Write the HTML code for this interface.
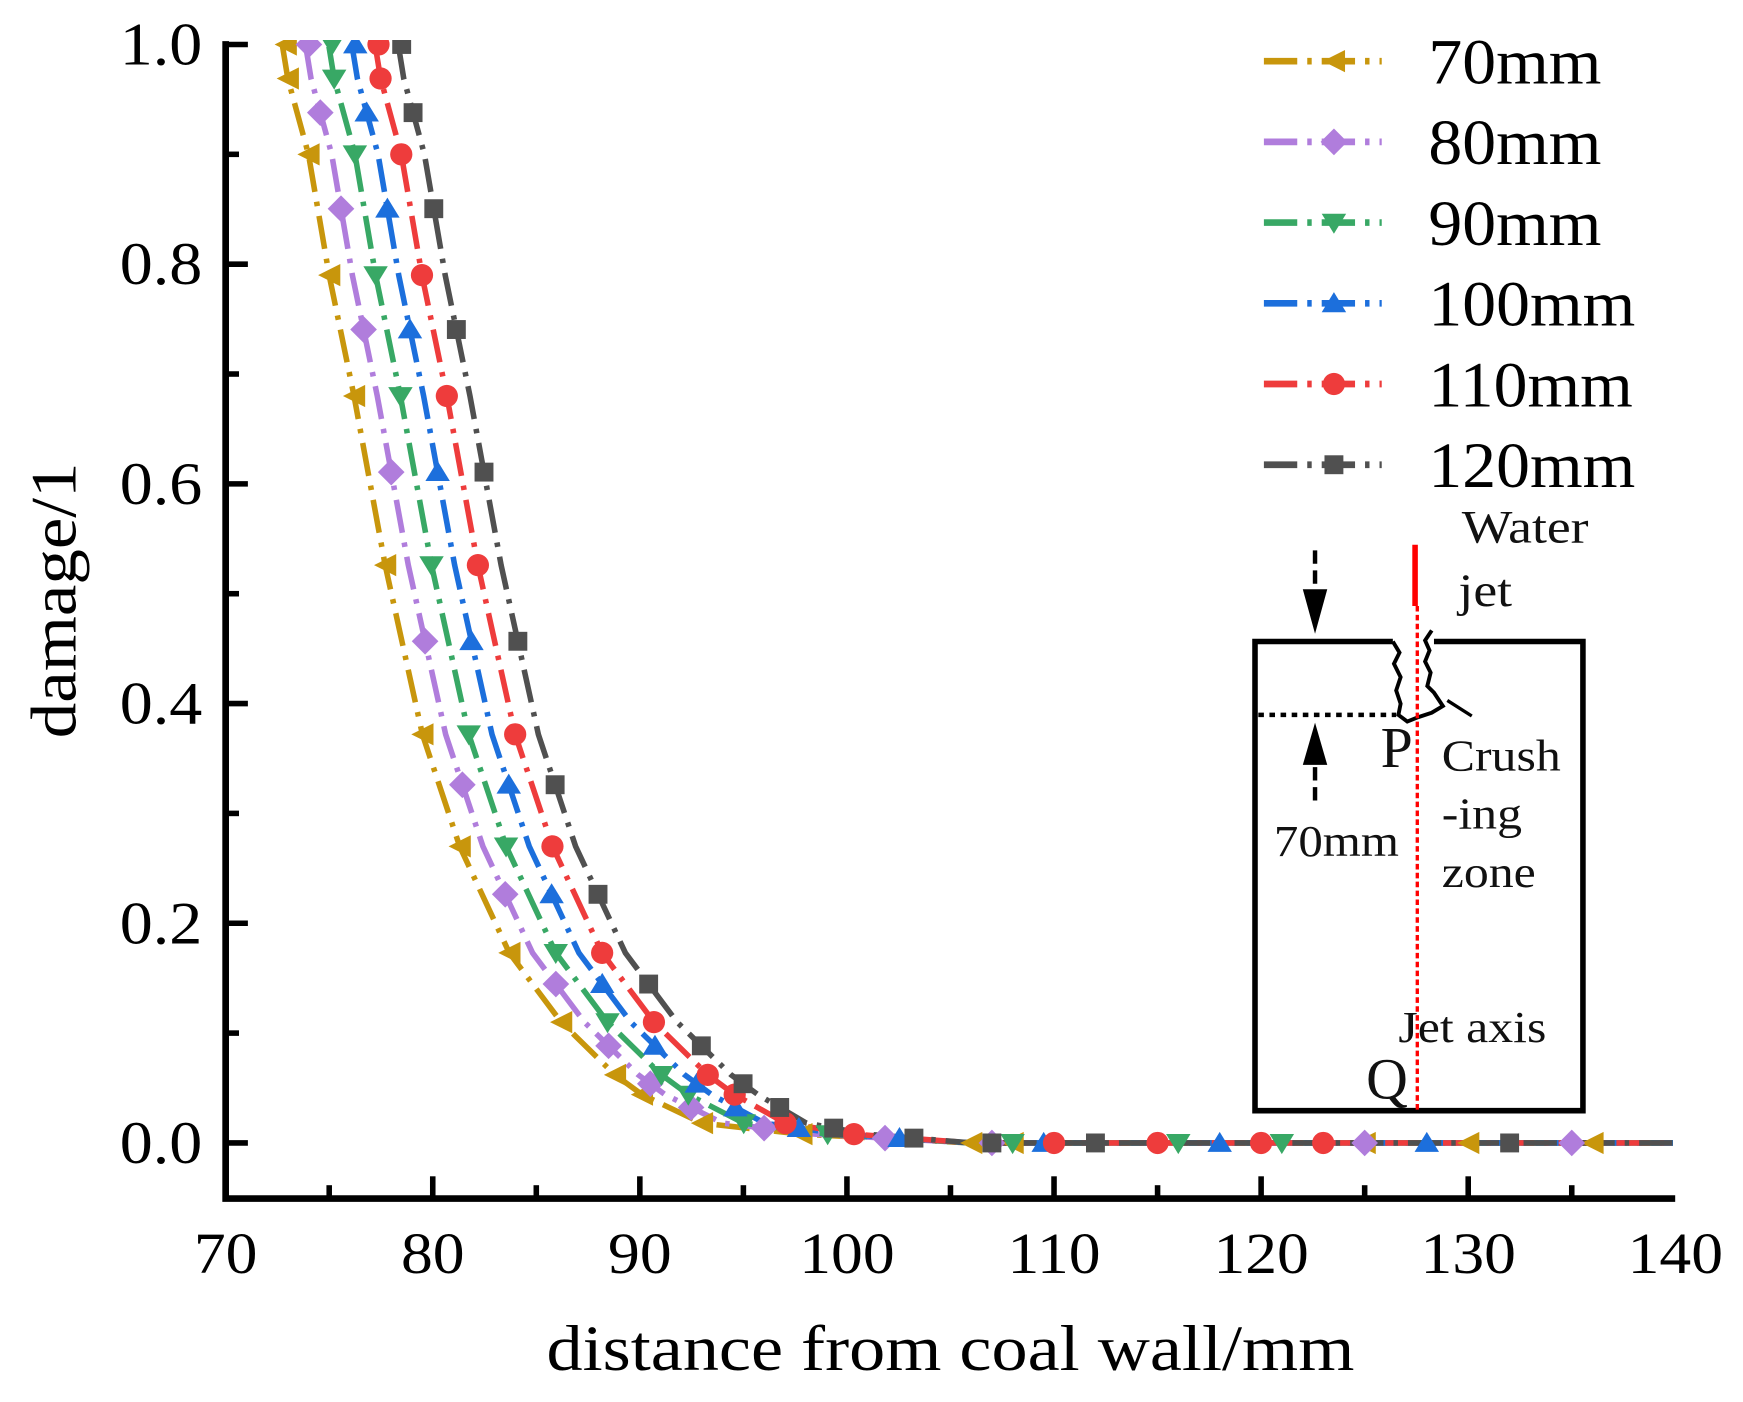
<!DOCTYPE html>
<html><head><meta charset="utf-8"><style>
html,body{margin:0;padding:0;background:#fff;}
svg{display:block;font-family:"Liberation Serif",serif;}
</style></head><body>
<svg id="s" width="1743" height="1402" viewBox="0 0 1568 1261" preserveAspectRatio="none" xmlns="http://www.w3.org/2000/svg">
<defs><clipPath id="c"><rect x="206" y="36" width="1299" height="1040"/></clipPath></defs>
<g id="data" clip-path="url(#c)"></g>
<g stroke="#000" stroke-width="6" fill="none">
<path d="M203,37 V1078 H1507"/>
</g>
<g id="ticks" stroke="#000" stroke-width="5"></g>
<g id="txt"></g>
<g id="legend"></g>
<g fill="none" stroke="#000" stroke-width="5">
<path d="M1253,577 H1129 V999 H1424 V577 H1290"/>
<path d="M1253,577 l6,10 -5,10 6,12 -4,12 4,12 -2,10 8,6 10,-4 12,-4 10,-6 -8,-12 -6,-6 3,-12 -5,-10 4,-10 -4,-9 6,-9" stroke-width="3.5"/>
<path d="M1302,630 l22,14" stroke-width="3"/>
</g>
<path d="M1132,643 H1256" stroke="#000" stroke-width="4" stroke-dasharray="5,5"/>
<path d="M1273,490 V545" stroke="#f00" stroke-width="5"/>
<path d="M1275,545 V1001" stroke="#f00" stroke-width="3" stroke-dasharray="5,3"/>
<path d="M1183,495 V535" stroke="#000" stroke-width="4" stroke-dasharray="12,6"/>
<path d="M1172,530 L1194,530 L1183,570 Z" fill="#000"/>
<path d="M1172,688 L1194,688 L1183,650 Z" fill="#000"/>
<path d="M1183,690 V722" stroke="#000" stroke-width="4" stroke-dasharray="12,6"/>
</svg>
<script>
var NS="http://www.w3.org/2000/svg";
function X(v){return 203+(v-70)*18.63;}
function Y(v){return 1028-v*988;}
function el(t,a,p){var e=document.createElementNS(NS,t);for(var k in a)e.setAttribute(k,a[k]);(p||document.getElementById('s')).appendChild(e);return e;}
function T(x,y,s,size,sx,anchor,rot,fill){var p=document.getElementById('txt');
 var tr='translate('+x+','+y+')'+(rot?' rotate('+rot+')':'')+' scale('+sx+',1)';
 var t=el('text',{transform:tr,'font-size':size,'text-anchor':anchor||'start',fill:fill||'#000'},p);t.textContent=s;return t;}
var tk=document.getElementById('ticks');
for(var v=70;v<=140;v+=5){var x=X(v);var L=(v%10==0)?20:12;if(v>70&&v<140)el('line',{x1:x,y1:1078,x2:x,y2:1078-L},tk);
 if(v%10==0)T(x,1145,String(v),52,1.1,'middle');}
for(var i=0;i<=10;i++){var y=Y(i/10);var L=(i%2==0)?20:12;el('line',{x1:203,y1:y,x2:203+L,y2:y},tk);
 if(i%2==0)T(182,y+18,(i/10).toFixed(1),54,1.1,'end');}
T(855,1232,'distance from coal wall/mm',58,1.12,'middle');
T(68,540,'damage/1',58,1.1,'middle',-90);
T(1315,488,'Water',42,1.15,'start',0,'#111');
T(1312,545,'jet',42,1.15,'start',0,'#111');
T(1242,690,'P',52,1.0,'start',0,'#111');
T(1297,693,'Crush',40,1.12,'start',0,'#111');
T(1297,745,'-ing',40,1.12,'start',0,'#111');
T(1297,798,'zone',40,1.12,'start',0,'#111');
T(1146,770,'70mm',40,1.1,'start',0,'#111');
T(1258,937,'Jet axis',40,1.12,'start',0,'#111');
T(1229,988,'Q',52,1.0,'start',0,'#111');
var base=[[72.3,1.05],[73.0,.969],[74.0,.90],[75,.79],[76.2,.68],[77.7,.526],[79.5,.372],[81.3,.27],[83.7,.173],[86.2,.11],[88.8,.062],[90.1,.044],[93,.018],[97.8,.008],[106,0],[141,0]];
var cols=['#c8960c','#b07ddc','#38a865','#1c6fdc','#ee3c3c','#505050'];
var names=['70mm','80mm','90mm','100mm','110mm','120mm'];
var tails=[[106,108,125,130,136],[107,125,135],[108,116,121],[109.5,118,128],[110,115,120,123],[107,112,132]];
var g=document.getElementById('data');
function marker(k,x,y,p){
 var s=10;
 if(k==0)el('path',{d:'M'+(x-s)+','+y+' L'+(x+s)+','+(y-s)+' L'+(x+s)+','+(y+s)+'Z',fill:cols[k]},p);
 else if(k==1)el('path',{d:'M'+x+','+(y-s*1.2)+' L'+(x+s*1.2)+','+y+' L'+x+','+(y+s*1.2)+' L'+(x-s*1.2)+','+y+'Z',fill:cols[k]},p);
 else if(k==2)el('path',{d:'M'+(x-s*1.1)+','+(y-s*0.8)+' L'+(x+s*1.1)+','+(y-s*0.8)+' L'+x+','+(y+s)+'Z',fill:cols[k]},p);
 else if(k==3)el('path',{d:'M'+(x-s*1.1)+','+(y+s*0.8)+' L'+(x+s*1.1)+','+(y+s*0.8)+' L'+x+','+(y-s)+'Z',fill:cols[k]},p);
 else if(k==4)el('circle',{cx:x,cy:y,r:s,fill:cols[k]},p);
 else el('rect',{x:x-s*0.85,y:y-s*0.85,width:s*1.7,height:s*1.7,fill:cols[k]},p);
}
function shifted(k){return base.map(function(p){var sh=k*1.12*Math.min(1,p[1]/0.03+0.3);if(p[1]==0)sh=0;return [p[0]+sh,p[1]];});}
for(var k=0;k<6;k++){
 var pts=shifted(k);
 var d=pts.map(function(p,i){return (i?'L':'M')+X(p[0]).toFixed(1)+','+Y(p[1]).toFixed(1);}).join(' ');
 el('path',{d:d,fill:'none',stroke:cols[k],'stroke-width':5,'stroke-dasharray':'30,9,4,9'},g);
}
for(var k=0;k<6;k++){
 var pts=shifted(k);
 for(var i=1;i<pts.length-2;i++){var off=(k%2)*0.45;var a=pts[i],b=pts[i+1];var x=a[0]+(b[0]-a[0])*off,y=a[1]+(b[1]-a[1])*off;marker(k,X(x),Y(Math.min(y,1)),g);}
 tails[k].forEach(function(v){marker(k,X(v),Y(0),g);});
 marker(k,X(pts[0][0]+0.6),Y(1),g);
}
var lg=document.getElementById('legend');
for(var k=0;k<6;k++){var y=55+k*72.6;
 el('line',{x1:1137,y1:y,x2:1243,y2:y,stroke:cols[k],'stroke-width':6,'stroke-dasharray':'30,9,4,9'},lg);
 marker(k,1200,y,lg);
 T(1285,y+20,names[k],58,1.05,'start');}
</script>
</body></html>
